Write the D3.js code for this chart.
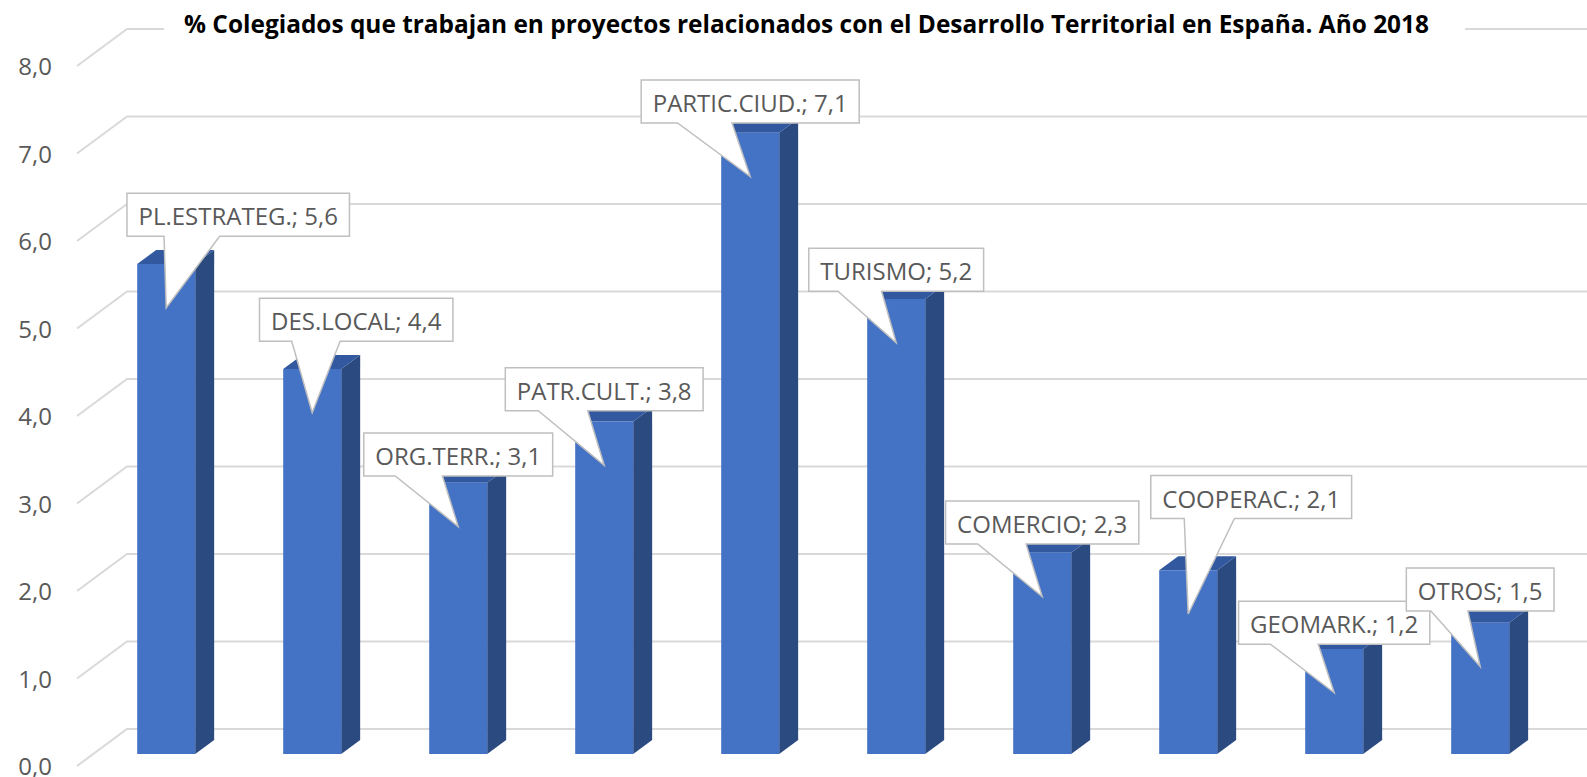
<!DOCTYPE html>
<html>
<head>
<meta charset="utf-8">
<script src="https://cdn.jsdelivr.net/npm/d3@7"></script>
<style>
  html, body { margin: 0; padding: 0; background: #ffffff; overflow: hidden; }
  svg { display: block; }
</style>
</head>
<body>
<svg id="chart" width="1587" height="777"></svg>
<script>
// ---- data ----
const title = "% Colegiados que trabajan en proyectos relacionados con el Desarrollo Territorial en España. Año 2018";
const categories = ["PL.ESTRATEG.", "DES.LOCAL", "ORG.TERR.", "PATR.CULT.", "PARTIC.CIUD.", "TURISMO", "COMERCIO", "COOPERAC.", "GEOMARK.", "OTROS"];
const values = [5.6, 4.4, 3.1, 3.8, 7.1, 5.2, 2.3, 2.1, 1.2, 1.5];
const yTicks = [0, 1, 2, 3, 4, 5, 6, 7, 8];

// ---- label placement (offset of callout box centre from its pointer tip) ----
const labelDx = [72, 44, 0, 0, 0, 0, 0, 63, 0, 0];
const labelDy = [-93, -93, -72, -76, -75, -73, -74, -117, -70, -77];

// ---- layout ----
const W = 1587, H = 777;
const depthX = 50, depthY = -37;          // full floor depth offset
const barZ0 = 0.324, barZ1 = 0.703;        // bar front/back depth fraction
const fmt = d3.formatLocale({decimal: ",", thousands: ".", grouping: [3], currency: ["", "€"]}).format(".1f");

const svg = d3.select("#chart");
const y = d3.scaleLinear().domain([0, 8]).range([766, 66]);   // front plane
const x = d3.scaleBand().domain(categories).range([77, 1537]).paddingInner(0.6027).paddingOuter(0.3014);
const bw = x.bandwidth();
const gx0 = 77;                     // gridline front x

const proj = (px, v, z) => [px + depthX * z, y(v) + depthY * z];

// gridlines
const grid = svg.append("g");
yTicks.forEach(t => {
  const a = [gx0, y(t)];
  const b = [gx0 + depthX, y(t) + depthY];
  grid.append("path")
    .attr("d", `M${a[0]},${a[1]}L${b[0]},${b[1]}L${W + 5},${b[1]}`)
    .attr("fill", "none").attr("stroke", "#d9d9d9").attr("stroke-width", 2);
});

// title (white background hides gridline)
svg.append("rect").attr("x", 164).attr("y", 0).attr("width", 1465 - 164).attr("height", 50).attr("fill", "#fff");
svg.append("text")
  .attr("x", 184).attr("y", 33)
  .attr("font-family", "'Open Sans', 'Noto Sans', sans-serif")
  .attr("font-weight", "bold").attr("font-size", 25)
  .attr("fill", "#000")
  .attr("textLength", 1245).attr("lengthAdjust", "spacingAndGlyphs")
  .text(title);

// y axis labels
const axis = d3.axisLeft(y).tickValues(yTicks).tickFormat(fmt).tickSize(0).tickPadding(0);
const ag = svg.append("g").attr("transform", "translate(52,1)").call(axis);
ag.select(".domain").remove();
ag.selectAll("text")
  .attr("font-family", "'Open Sans', 'Noto Sans', sans-serif")
  .attr("font-size", 24).attr("fill", "#595959");

// bars
const bars = svg.append("g");
categories.forEach((c, i) => {
  const v = values[i];
  const x0 = x(c);
  const f = (px, val, z) => proj(px, val, z);
  const ftl = f(x0, v, barZ0), ftr = f(x0 + bw, v, barZ0), fbr = f(x0 + bw, 0, barZ0), fbl = f(x0, 0, barZ0);
  const btl = f(x0, v, barZ1), btr = f(x0 + bw, v, barZ1), bbr = f(x0 + bw, 0, barZ1);
  const poly = pts => "M" + pts.map(p => p.join(",")).join("L") + "Z";
  bars.append("path").attr("d", poly([ftr, btr, bbr, fbr])).attr("fill", "#2b4a80");
  bars.append("path").attr("d", poly([ftl, btl, btr, ftr])).attr("fill", "#3259a0");
  bars.append("path").attr("d", poly([ftl, ftr, fbr, fbl])).attr("fill", "#4472c4");
});

// callout labels
const lg = svg.append("g");
categories.forEach((c, i) => {
  const v = values[i];
  const tip = proj(x(c) + bw / 2, v - 0.5, barZ0);
  const g = lg.append("g");
  const path = g.append("path");
  const txt = g.append("text")
    .attr("font-family", "'Open Sans', 'Noto Sans', sans-serif")
    .attr("font-size", 24).attr("fill", "#595959")
    .attr("text-anchor", "middle").attr("dominant-baseline", "central")
    .text(`${c}; ${fmt(v)}`);
  const tw = txt.node().getComputedTextLength();
  const bwid = tw + 23, bh = 43;
  const cx = tip[0] + labelDx[i], cy = tip[1] + labelDy[i];
  const L = cx - bwid / 2, T = cy - bh / 2;
  txt.attr("x", cx).attr("y", cy + 1);
  let x1, x2;
  if (tip[0] > cx) { x1 = L + bwid * 7 / 12; x2 = L + bwid * 10 / 12; }
  else { x1 = L + bwid * 2 / 12; x2 = L + bwid * 5 / 12; }
  const d = `M${L},${T}H${L + bwid}V${T + bh}H${x2}L${tip[0]},${tip[1]}L${x1},${T + bh}H${L}Z`;
  path.attr("d", d).attr("fill", "#fff").attr("stroke", "#bfbfbf").attr("stroke-width", 1.5);
});
</script>
</body>
</html>
